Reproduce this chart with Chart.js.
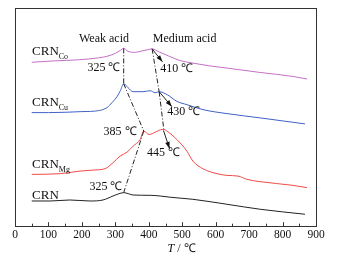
<!DOCTYPE html>
<html>
<head>
<meta charset="utf-8">
<script src="https://cdn.jsdelivr.net/npm/chart.js@4"></script>
<style>
  html, body { margin: 0; padding: 0; background: #fff; }
  #wrap { width: 342px; height: 260px; }
</style>
</head>
<body>
<div id="wrap"><canvas id="chart"></canvas></div>
<script>
// temperatures (°C) and signal (arbitrary units)
const crnCoT = [50, 120, 190, 250, 275, 300, 315, 325, 338, 360, 380, 395, 410, 430, 463, 493, 532, 580, 634, 733, 831, 873];
const crnCoV = [164.5, 166, 167, 169, 170.5, 173.5, 176.5, 178.5, 175.5, 174.5, 176, 177, 178, 175, 170.3, 166.3, 163.7, 161, 158.7, 154.3, 150.3, 147.7];

const crnCuT = [50, 100, 200, 250, 275, 290, 305, 315, 325, 338, 353, 383, 404, 419, 431, 455, 484, 514, 562, 634, 733, 831, 867];
const crnCuV = [114, 114, 115, 116, 119, 124, 130, 136, 143, 139, 135, 135, 136, 134, 135, 132, 125.3, 122, 117, 113, 108.7, 104.3, 102.7];

const crnMgT = [50, 135, 194, 233, 269, 293, 314, 335, 353, 374, 385, 401, 420, 440, 445, 455, 484, 514, 532, 562, 604, 634, 667, 694, 733, 831, 873];
const crnMgV = [52, 52.7, 55.3, 56.3, 57.7, 63.7, 70.3, 74.3, 80.3, 87, 95.5, 92, 94.5, 97, 97, 95.3, 87, 75.3, 65.3, 57.7, 52.7, 51, 50.3, 47, 44.7, 41, 38.7];

const crnT = [50, 105, 164, 224, 263, 293, 310, 325, 340, 353, 404, 434, 466, 532, 634, 733, 867];
const crnV = [25.3, 25.3, 26.3, 25.3, 26.3, 30.3, 32.5, 33.7, 32.5, 31.3, 31, 30.3, 29, 27, 22, 17, 12];

const xTicks = [0, 100, 200, 300, 400, 500, 600, 700, 800, 900];

// peak links (dash-dot) : [T1, V1, T2, V2]
const weakLinks = [[325, 178.5, 325, 143], [325, 143, 385, 95.5], [385, 95.5, 325, 33.7]];
const mediumLinks = [[410, 178, 431, 135], [431, 135, 445, 97]];
// arrows from peak to label
const arrows = [[410, 178, 441, 165], [431, 135, 469, 120], [444, 96, 462, 78]];

// text labels : [text, T, V, align]
const notes = [
  ['Weak acid', 266, 188, 'center'],
  ['Medium acid', 507, 188, 'center'],
  ['325 ℃', 266, 159, 'center'],
  ['410 ℃', 434, 158, 'left'],
  ['430 ℃', 455, 115, 'left'],
  ['385 ℃', 314, 95, 'center'],
  ['445 ℃', 395, 74, 'left'],
  ['325 ℃', 272, 40, 'center']
];
// series names with subscripts : [main, sub, T, V]
const names = [
  ['CRN', 'Co', 51, 175],
  ['CRN', 'Cu', 51, 124],
  ['CRN', 'Mg', 51, 62],
  ['CRN', '', 51, 31]
];

const serif = '"Liberation Serif", "Times New Roman", serif';

function pts(t, v) {
  return t.map((x, i) => ({ x: x, y: v[i] }));
}

const decorPlugin = {
  id: 'decor',
  afterDatasetsDraw(chart) {
    const ctx = chart.ctx;
    const xs = chart.scales.x;
    const ys = chart.scales.y;
    const a = chart.chartArea;
    const px = t => xs.getPixelForValue(t);
    const py = v => ys.getPixelForValue(v);

    ctx.save();
    // frame
    ctx.strokeStyle = '#333';
    ctx.lineWidth = 1;
    ctx.strokeRect(Math.round(a.left) + 0.5, Math.round(a.top) + 0.5,
      Math.round(a.right - a.left), Math.round(a.bottom - a.top));

    // inward ticks on x axis, minor every 50
    ctx.beginPath();
    for (let t = 0; t <= 900; t += 50) {
      const x = Math.round(px(t)) + 0.5;
      const len = t % 100 === 0 ? 4 : 2.5;
      ctx.moveTo(x, a.bottom);
      ctx.lineTo(x, a.bottom - len);
    }
    ctx.stroke();

    // dash-dot peak links
    ctx.strokeStyle = '#222';
    ctx.setLineDash([5, 2, 1, 2]);
    weakLinks.concat(mediumLinks).forEach(l => {
      ctx.beginPath();
      ctx.moveTo(px(l[0]), py(l[1]));
      ctx.lineTo(px(l[2]), py(l[3]));
      ctx.stroke();
    });
    ctx.setLineDash([]);

    // arrows
    ctx.fillStyle = '#111';
    arrows.forEach(r => {
      const x1 = px(r[0]), y1 = py(r[1]), x2 = px(r[2]), y2 = py(r[3]);
      const ang = Math.atan2(y2 - y1, x2 - x1);
      ctx.beginPath();
      ctx.moveTo(x1, y1);
      ctx.lineTo(x2, y2);
      ctx.stroke();
      ctx.beginPath();
      ctx.moveTo(x2, y2);
      ctx.lineTo(x2 - 7 * Math.cos(ang - 0.33), y2 - 7 * Math.sin(ang - 0.33));
      ctx.lineTo(x2 - 7 * Math.cos(ang + 0.33), y2 - 7 * Math.sin(ang + 0.33));
      ctx.closePath();
      ctx.fill();
    });

    // annotations
    ctx.fillStyle = '#111';
    ctx.textBaseline = 'middle';
    ctx.font = '12px ' + serif;
    notes.forEach(n => {
      ctx.textAlign = n[3];
      ctx.fillText(n[0], px(n[1]), py(n[2]));
    });

    ctx.textAlign = 'left';
    names.forEach(n => {
      ctx.font = '13px ' + serif;
      const x = px(n[2]), y = py(n[3]);
      ctx.fillText(n[0], x, y);
      const w = ctx.measureText(n[0]).width;
      ctx.font = '8px ' + serif;
      ctx.fillText(n[1], x + w, y + 5);
    });

    // axis title: T / ℃
    ctx.font = 'italic 12px ' + serif;
    const tW = ctx.measureText('T').width;
    ctx.font = '12px ' + serif;
    const rest = ' / ℃';
    const rW = ctx.measureText(rest).width;
    const cx = (a.left + a.right) / 2 + 16;
    const ty = 249;
    ctx.font = 'italic 12px ' + serif;
    ctx.fillText('T', cx - (tW + rW) / 2, ty);
    ctx.font = '12px ' + serif;
    ctx.fillText(rest, cx - (tW + rW) / 2 + tW, ty);
    ctx.restore();
  }
};

const lineStyle = { pointRadius: 0, borderWidth: 1, cubicInterpolationMode: 'monotone', fill: false };

new Chart(document.getElementById('chart'), {
  type: 'line',
  data: {
    datasets: [
      { label: 'CRNCo', data: pts(crnCoT, crnCoV), borderColor: '#c46fc8', ...lineStyle },
      { label: 'CRNCu', data: pts(crnCuT, crnCuV), borderColor: '#3f62c8', ...lineStyle },
      { label: 'CRNMg', data: pts(crnMgT, crnMgV), borderColor: '#ef4a48', ...lineStyle },
      { label: 'CRN', data: pts(crnT, crnV), borderColor: '#222222', ...lineStyle }
    ]
  },
  options: {
    responsive: true,
    maintainAspectRatio: false,
    animation: false,
    layout: { padding: { left: 15, right: 26, top: 8, bottom: 16 } },
    plugins: {
      legend: { display: false },
      tooltip: { enabled: false }
    },
    scales: {
      x: {
        type: 'linear',
        min: 0,
        max: 900,
        afterBuildTicks: s => { s.ticks = xTicks.map(v => ({ value: v })); },
        grid: { display: false, drawTicks: false },
        border: { display: false },
        ticks: { color: '#111', padding: 2, maxRotation: 0, font: { family: serif, size: 11.5 } }
      },
      y: {
        display: false,
        min: 0,
        max: 219
      }
    }
  },
  plugins: [decorPlugin]
});
</script>
</body>
</html>
